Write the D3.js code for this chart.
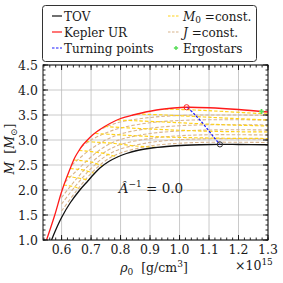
<!DOCTYPE html>
<html><head><meta charset="utf-8">
<script src="https://cdn.jsdelivr.net/npm/d3@7"></script>
<style>
html,body{margin:0;padding:0;background:#fff;}
svg text{font-family:"DejaVu Serif",serif;}
</style></head>
<body>
<svg id="c" width="283" height="283"></svg>
<script>
// ---------- DATA ----------
const xTicks = [0.6,0.7,0.8,0.9,1.0,1.1,1.2,1.3];
const yTicks = [1.0,1.5,2.0,2.5,3.0,3.5,4.0,4.5];
const xDomain = [0.537, 1.3];
const yDomain = [1.0, 4.5];

const tovRho = [0.566,0.580,0.600,0.630,0.662,0.689,0.710,0.730,0.760,0.786,0.820,0.860,0.900,0.956,1.020,1.070,1.137,1.200,1.300];
const tovM   = [1.00, 1.20, 1.45, 1.75, 2.00, 2.18, 2.32, 2.44, 2.57, 2.65, 2.73, 2.795,2.835,2.87, 2.895,2.905,2.912,2.91, 2.905];

const kepRho = [0.549,0.577,0.602,0.634,0.645,0.658,0.672,0.686,0.705,0.730,0.764,0.800,0.842,0.922,0.980,1.024,1.100,1.200,1.300];
const kepM   = [1.00, 1.50, 2.00, 2.50, 2.65, 2.78, 2.90, 2.99, 3.10, 3.21, 3.33, 3.43, 3.50, 3.60, 3.64, 3.655,3.645,3.61, 3.56];

const turnRho = [1.027,1.050,1.075,1.100,1.120,1.137];
const turnM   = [3.65, 3.52, 3.36, 3.18, 3.03, 2.912];

// M0 = const sequences (rho, M pairs)
const m0Lines = [
  [[0.606,2.10],[0.625,2.085],[0.645,2.06],[0.665,2.02]],
  [[0.618,2.27],[0.640,2.255],[0.665,2.23],[0.692,2.20]],
  [[0.629,2.43],[0.655,2.415],[0.680,2.39],[0.712,2.33]],
  [[0.641,2.60],[0.670,2.585],[0.700,2.56],[0.738,2.48]],
  [[0.659,2.79],[0.690,2.775],[0.730,2.745],[0.765,2.70],[0.790,2.66]],
  [[0.683,2.97],[0.720,2.955],[0.780,2.93],[0.850,2.88],[0.930,2.85]],
  [[0.714,3.13],[0.760,3.115],[0.850,3.085],[0.950,3.06],[1.050,3.045],[1.150,3.035],[1.300,3.03]],
  [[0.746,3.27],[0.800,3.25],[0.900,3.22],[1.000,3.195],[1.100,3.175],[1.200,3.165],[1.300,3.16]],
  [[0.790,3.40],[0.850,3.385],[0.950,3.36],[1.050,3.33],[1.150,3.305],[1.300,3.28]],
  [[0.855,3.52],[0.950,3.50],[1.050,3.47],[1.150,3.44],[1.300,3.40]],
  [[0.950,3.62],[1.050,3.60],[1.150,3.57],[1.300,3.52]]
];

// J = const sequences (rho, M pairs)
const jLines = [
  [[0.600,1.58],[0.650,1.98],[0.700,2.33],[0.750,2.59],[0.800,2.74],[0.900,2.88],[1.000,2.935],[1.100,2.955],[1.200,2.955],[1.300,2.95]],
  [[0.600,1.72],[0.650,2.10],[0.700,2.43],[0.750,2.68],[0.800,2.82],[0.900,2.95],[1.000,3.005],[1.100,3.025],[1.200,3.025],[1.300,3.02]],
  [[0.600,1.85],[0.650,2.22],[0.700,2.54],[0.750,2.77],[0.800,2.91],[0.900,3.03],[1.000,3.085],[1.100,3.105],[1.200,3.105],[1.300,3.10]],
  [[0.612,2.16],[0.650,2.38],[0.700,2.66],[0.750,2.88],[0.800,3.01],[0.900,3.13],[1.000,3.18],[1.100,3.20],[1.200,3.205],[1.300,3.20]],
  [[0.635,2.50],[0.650,2.58],[0.700,2.82],[0.750,3.00],[0.800,3.12],[0.900,3.235],[1.000,3.285],[1.100,3.305],[1.200,3.305],[1.300,3.30]],
  [[0.667,2.86],[0.700,3.00],[0.750,3.14],[0.800,3.24],[0.900,3.345],[1.000,3.39],[1.100,3.405],[1.200,3.405],[1.300,3.40]],
  [[0.722,3.18],[0.750,3.26],[0.800,3.36],[0.900,3.45],[1.000,3.49],[1.100,3.50],[1.200,3.50],[1.300,3.49]]
];

const keplerMax = [1.024, 3.655];
const tovTurn   = [1.137, 2.912];
const ergostar  = [1.278, 3.57];

// ---------- DRAW ----------
const svg = d3.select("#c");
const L = 43, R = 268, T = 65, B = 240;
const x = d3.scaleLinear().domain(xDomain).range([L, R]);
const y = d3.scaleLinear().domain(yDomain).range([B, T]);
const fs = 12.5;
const TXT = "#1a1a1a";

const g = svg.append("g");
g.selectAll(".gx").data(xTicks).enter().append("line")
  .attr("x1", d=>x(d)).attr("x2", d=>x(d)).attr("y1", T).attr("y2", B)
  .attr("stroke", "#bdbdbd").attr("stroke-width", 0.8);
g.selectAll(".gy").data(yTicks).enter().append("line")
  .attr("x1", L).attr("x2", R).attr("y1", d=>y(d)).attr("y2", d=>y(d))
  .attr("stroke", "#bdbdbd").attr("stroke-width", 0.8);

svg.append("clipPath").attr("id","pc").append("rect")
  .attr("x", L).attr("y", T).attr("width", R-L).attr("height", B-T);
const plot = svg.append("g").attr("clip-path","url(#pc)");

const lineN = d3.line().x(d=>x(d[0])).y(d=>y(d[1])).curve(d3.curveCatmullRom);

plot.selectAll(".jl").data(jLines).enter().append("path")
  .attr("d", lineN).attr("fill","none").attr("stroke","#d8b48c")
  .attr("stroke-width",1.1).attr("stroke-dasharray","3.5,2");
plot.selectAll(".ml").data(m0Lines).enter().append("path")
  .attr("d", lineN).attr("fill","none").attr("stroke","#ffd21a")
  .attr("stroke-width",1.2).attr("stroke-dasharray","3.5,2");

const zip = (a,b)=>a.map((v,i)=>[v,b[i]]);
plot.append("path").datum(zip(tovRho,tovM)).attr("d", lineN)
  .attr("fill","none").attr("stroke","#111").attr("stroke-width",1.3);
plot.append("path").datum(zip(kepRho,kepM)).attr("d", lineN)
  .attr("fill","none").attr("stroke","#ff1a1a").attr("stroke-width",1.3);
plot.append("path").datum(zip(turnRho,turnM)).attr("d", lineN)
  .attr("fill","none").attr("stroke","#1a1aff").attr("stroke-width",1.2).attr("stroke-dasharray","2.5,1.5");

plot.append("circle").attr("cx", x(keplerMax[0])).attr("cy", y(keplerMax[1])).attr("r",2.6)
  .attr("fill","none").attr("stroke","#ff2020").attr("stroke-width",1);
plot.append("circle").attr("cx", x(tovTurn[0])).attr("cy", y(tovTurn[1])).attr("r",2.6)
  .attr("fill","none").attr("stroke","#333").attr("stroke-width",1);
plot.append("path").attr("transform",`translate(${x(ergostar[0])},${y(ergostar[1])})`)
  .attr("d", d3.symbol(d3.symbolCross, 14)).attr("fill","#55dd55");

svg.append("rect").attr("x",L).attr("y",T).attr("width",R-L).attr("height",B-T)
  .attr("fill","none").attr("stroke","#111").attr("stroke-width",1);

const xMinor = d3.range(0.54, 1.3001, 0.02).filter(v=>v>=xDomain[0]);
const yMinor = d3.range(1.0, 4.5001, 0.1);
const tk = svg.append("g").attr("stroke","#111").attr("stroke-width",0.9);
xMinor.forEach(v=>{
  tk.append("line").attr("x1",x(v)).attr("x2",x(v)).attr("y1",B).attr("y2",B-2.5);
  tk.append("line").attr("x1",x(v)).attr("x2",x(v)).attr("y1",T).attr("y2",T+2.5);
});
xTicks.forEach(v=>{
  tk.append("line").attr("x1",x(v)).attr("x2",x(v)).attr("y1",B).attr("y2",B-5);
  tk.append("line").attr("x1",x(v)).attr("x2",x(v)).attr("y1",T).attr("y2",T+5);
});
yMinor.forEach(v=>{
  tk.append("line").attr("x1",L).attr("x2",L+2.5).attr("y1",y(v)).attr("y2",y(v));
  tk.append("line").attr("x1",R).attr("x2",R-2.5).attr("y1",y(v)).attr("y2",y(v));
});
yTicks.forEach(v=>{
  tk.append("line").attr("x1",L).attr("x2",L+5).attr("y1",y(v)).attr("y2",y(v));
  tk.append("line").attr("x1",R).attr("x2",R-5).attr("y1",y(v)).attr("y2",y(v));
});

svg.selectAll(".xl").data(xTicks).enter().append("text")
  .attr("x", d=>x(d)).attr("y", 254).attr("text-anchor","middle").attr("fill",TXT)
  .attr("font-size", fs).text(d=>d.toFixed(1));
svg.selectAll(".yl").data(yTicks).enter().append("text")
  .attr("x", 38).attr("y", d=>y(d)+4.5).attr("text-anchor","end").attr("fill",TXT)
  .attr("font-size", fs).text(d=>d.toFixed(1));

const xl = svg.append("text").attr("x",154).attr("y",272).attr("text-anchor","middle").attr("font-size",fs).attr("fill",TXT);
xl.append("tspan").attr("font-style","italic").text("ρ");
xl.append("tspan").attr("font-size",9).attr("dy",3).text("0");
xl.append("tspan").attr("dy",-3).attr("xml:space","preserve").text("  [g/cm");
xl.append("tspan").attr("font-size",9).attr("dy",-5).text("3");
xl.append("tspan").attr("dy",5).text("]");

const ex = svg.append("text").attr("x",235).attr("y",270).attr("font-size",fs).attr("fill",TXT);
ex.append("tspan").text("×10");
ex.append("tspan").attr("font-size",9).attr("dy",-5).text("15");

const yl = svg.append("text").attr("transform","translate(14,149) rotate(-90)")
  .attr("text-anchor","middle").attr("font-size",fs).attr("fill",TXT);
yl.append("tspan").attr("font-style","italic").text("M");
yl.append("tspan").attr("xml:space","preserve").text("  [");
yl.append("tspan").attr("font-style","italic").text("M");
yl.append("tspan").attr("font-size",9).attr("dy",3).text("⊙");
yl.append("tspan").attr("dy",-3).text("]");

const an = svg.append("text").attr("x",151).attr("y",193).attr("text-anchor","middle").attr("font-size",13.5).attr("fill",TXT);
an.append("tspan").attr("font-style","italic").text("Â");
an.append("tspan").attr("font-size",9).attr("dy",-6).text("−1");
an.append("tspan").attr("dy",6).text(" = 0.0");

const lfs = 12;
const lg = svg.append("g");
lg.append("rect").attr("x",42.5).attr("y",5.5).attr("width",214).attr("height",56).attr("rx",3)
  .attr("fill","#fff").attr("stroke","#333").attr("stroke-width",1);
const rows = [16, 32, 48];
const leg1 = [
  {t:"TOV", c:"#111", d:null},
  {t:"Kepler UR", c:"#ff1a1a", d:null},
  {t:"Turning points", c:"#1a1aff", d:"2.5,1.5"}
];
leg1.forEach((e,i)=>{
  lg.append("line").attr("x1",52).attr("x2",62).attr("y1",rows[i]).attr("y2",rows[i])
    .attr("stroke",e.c).attr("stroke-width",1.2).attr("stroke-dasharray",e.d);
  lg.append("text").attr("x",64).attr("y",rows[i]+4.5).attr("font-size",lfs).attr("fill",TXT).text(e.t);
});
lg.append("line").attr("x1",168).attr("x2",180).attr("y1",rows[0]).attr("y2",rows[0])
  .attr("stroke","#ffd21a").attr("stroke-width",1.2).attr("stroke-dasharray","2.5,1.5");
const t1 = lg.append("text").attr("x",183).attr("y",rows[0]+4.5).attr("font-size",lfs).attr("fill",TXT);
t1.append("tspan").attr("font-style","italic").text("M");
t1.append("tspan").attr("font-size",9).attr("dy",2).text("0");
t1.append("tspan").attr("dy",-2).text(" =const.");
lg.append("line").attr("x1",168).attr("x2",180).attr("y1",rows[1]).attr("y2",rows[1])
  .attr("stroke","#d8b48c").attr("stroke-width",1.2).attr("stroke-dasharray","2.5,1.5");
const t2 = lg.append("text").attr("x",183).attr("y",rows[1]+4.5).attr("font-size",lfs).attr("fill",TXT);
t2.append("tspan").attr("font-style","italic").text("J");
t2.append("tspan").text(" =const.");
lg.append("path").attr("transform",`translate(176,${rows[2]})`)
  .attr("d", d3.symbol(d3.symbolCross, 10)).attr("fill","#55dd55");
lg.append("text").attr("x",183).attr("y",rows[2]+4.5).attr("font-size",lfs).attr("fill",TXT).text("Ergostars");
</script>
</body></html>
